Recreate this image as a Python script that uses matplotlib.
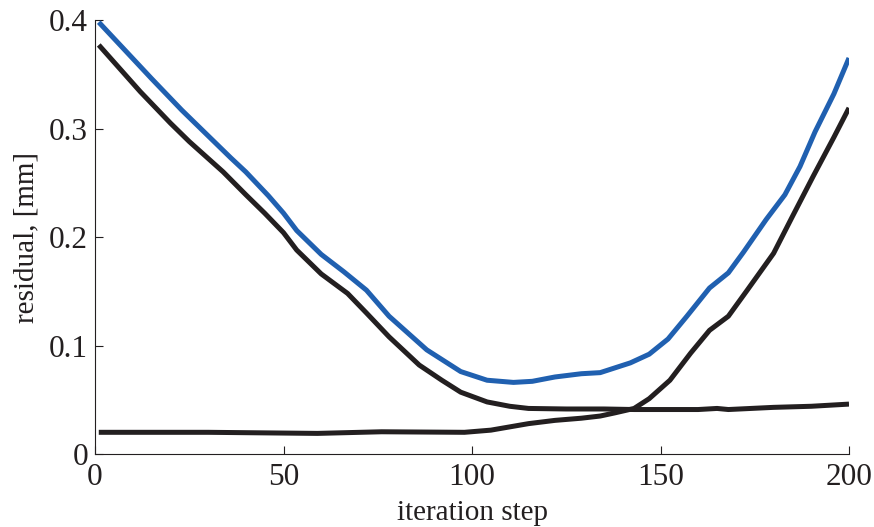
import matplotlib
matplotlib.use("Agg")
import matplotlib.pyplot as plt

# blue curve
blue_x = [1, 15, 23, 36, 40, 46, 50, 53.5, 60, 66, 72, 78, 88, 97, 104, 111, 116, 122, 129, 134,
          142, 147, 152, 157, 163, 168, 172, 178, 183, 187, 191, 196, 200]
blue_y = [0.398, 0.346, 0.317, 0.273, 0.260, 0.238, 0.222, 0.206, 0.184, 0.168, 0.151, 0.127,
          0.096, 0.076, 0.068, 0.066, 0.067, 0.071, 0.074, 0.075, 0.084, 0.092, 0.106, 0.127,
          0.153, 0.167, 0.186, 0.216, 0.239, 0.265, 0.297, 0.332, 0.365]

# upper black curve
top_x = [1, 12, 20, 25, 34, 40, 45, 50, 53.5, 60, 67, 72, 78, 86, 92, 97, 104, 110, 115, 125,
         135, 143, 150, 160, 165, 168, 180, 190, 200]
top_y = [0.377, 0.334, 0.305, 0.288, 0.260, 0.239, 0.222, 0.204, 0.188, 0.166, 0.148, 0.130,
         0.108, 0.082, 0.068, 0.057, 0.048, 0.044, 0.042, 0.0415, 0.0415, 0.041, 0.041, 0.041,
         0.042, 0.041, 0.043, 0.044, 0.046]

# lower black curve
low_x = [1, 30, 59, 76, 98, 105, 115, 122, 129, 134, 138, 143, 147, 152.5, 158, 163, 168, 173,
         180, 185, 190.5, 196, 200]
low_y = [0.020, 0.020, 0.019, 0.0205, 0.020, 0.022, 0.028, 0.031, 0.033, 0.035, 0.038, 0.042,
         0.051, 0.068, 0.093, 0.114, 0.127, 0.151, 0.185, 0.219, 0.256, 0.292, 0.319]

x_ticks = [0, 50, 100, 150, 200]
y_ticks = [0, 0.1, 0.2, 0.3, 0.4]
y_labels = ["0", "0.1", "0.2", "0.3", "0.4"]

plt.rcParams["font.family"] = ["Liberation Serif", "DejaVu Serif"]

fig = plt.figure(figsize=(8.74, 5.27), dpi=100)
ax = fig.add_axes([0.1087, 0.1385, 0.8627, 0.8235])

black = "#231f20"
ax.plot(low_x, low_y, color=black, lw=3.6, solid_capstyle="butt", solid_joinstyle="round")
ax.plot(top_x, top_y, color=black, lw=3.6, solid_capstyle="butt", solid_joinstyle="round")
ax.plot(blue_x, blue_y, color="#2060b0", lw=3.6, solid_capstyle="butt", solid_joinstyle="round")

ax.set_xlim(0, 200)
ax.set_ylim(0, 0.4)
ax.set_xticks(x_ticks)
ax.set_yticks(y_ticks)
ax.set_yticklabels(y_labels)
ax.tick_params(direction="in", length=6, width=0.8, labelsize=22.5, colors=black)
ax.tick_params(axis="y", pad=5)
ax.tick_params(axis="x", pad=6.5)
for side in ["top", "right"]:
    ax.spines[side].set_visible(False)
for side in ["left", "bottom"]:
    ax.spines[side].set_linewidth(0.8)
    ax.spines[side].set_color(black)

ax.set_xlabel("iteration step", fontsize=21, color=black)
ax.set_ylabel("residual, [mm]", fontsize=21, color=black)
ax.xaxis.set_label_coords(0.5, -0.107)
ax.yaxis.set_label_coords(-0.0743, 0.5)

fig.savefig("out.png", dpi=100)
